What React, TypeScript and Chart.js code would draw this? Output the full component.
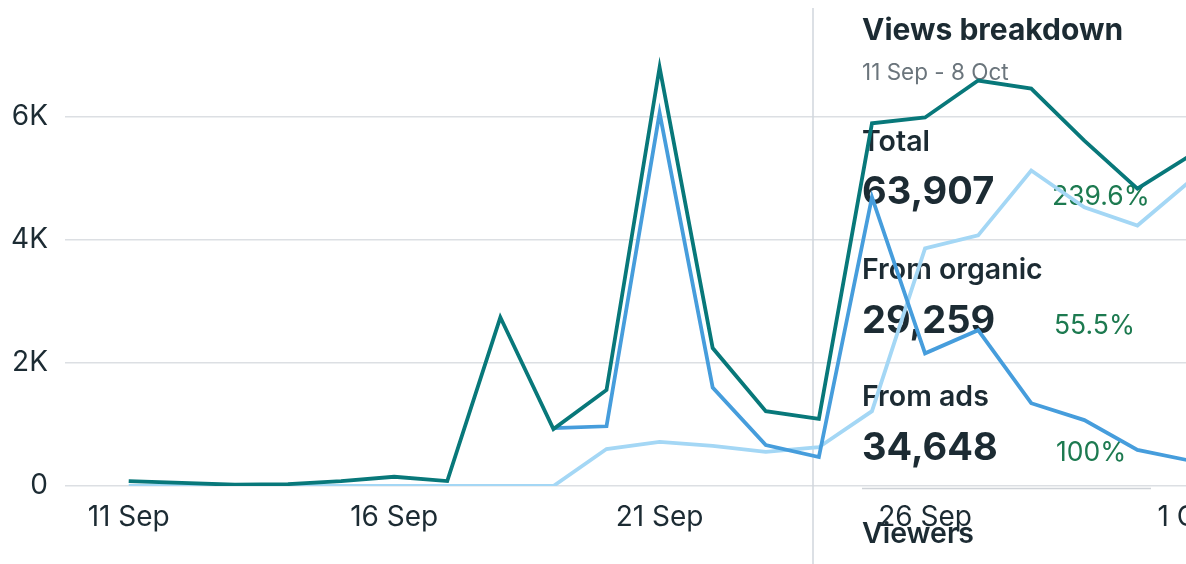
import React, { useEffect, useRef } from "react";
import { Chart, registerables } from "chart.js";

Chart.register(...registerables);

// ---- data ----
const dayLabels = [
  "11 Sep", "12 Sep", "13 Sep", "14 Sep", "15 Sep", "16 Sep", "17 Sep",
  "18 Sep", "19 Sep", "20 Sep", "21 Sep", "22 Sep", "23 Sep", "24 Sep",
  "25 Sep", "26 Sep", "27 Sep", "28 Sep", "29 Sep", "30 Sep", "1 Oct",
];
const totalViews = [
  80, 50, 20, 30, 80, 150, 80, 2740, 925, 1560, 6800, 2240, 1215, 1090,
  5890, 5985, 6585, 6455, 5610, 4830, 5370,
];
const organicViews: (number | null)[] = [
  null, null, null, null, null, null, null, null, 940, 970, 6060, 1600, 665,
  470, 4690, 2155, 2530, 1345, 1070, 585, 410,
];
const adsViews = [
  0, 0, 0, 0, 0, 0, 0, 0, 0, 600, 715, 650, 555, 630, 1215, 3860, 4070,
  5125, 4525, 4230, 4960,
];
const xTickIndices = [0, 5, 10, 15, 20];
const yTickValues = [0, 2000, 4000, 6000];
const yTickLabels = ["0", "2K", "4K", "6K"];

const panelTitle = "Views breakdown";
const panelRange = "11 Sep - 8 Oct";
const rowNames = ["Total", "From organic", "From ads"];
const rowValues = ["63,907", "29,259", "34,648"];
const rowChanges = ["239.6%", "55.5%", "100%"];
const nextSection = "Viewers";

const FONT = "Inter, 'Noto Sans', sans-serif";
const DARK = "#1c2b33";
const GREEN = "#1d7a50";
const GRAY = "#6b757c";

const overlayPlugin = {
  id: "overlay",
  beforeDatasetsDraw(chart: any) {
    const ctx = chart.ctx;
    ctx.save();
    // vertical panel line
    ctx.strokeStyle = "#d0d6dc";
    ctx.lineWidth = 1.5;
    ctx.beginPath();
    ctx.moveTo(813, 8);
    ctx.lineTo(813, 564);
    ctx.stroke();

    ctx.textAlign = "left";
    ctx.textBaseline = "alphabetic";
    const x0 = 862;
    ctx.fillStyle = DARK;
    ctx.font = `bold 30px ${FONT}`;
    ctx.fillText(panelTitle, x0, 40);
    ctx.fillStyle = GRAY;
    ctx.font = `22.5px ${FONT}`;
    ctx.fillText(panelRange, x0, 80);

    const nameBase = [151, 279, 406];
    const valBase = [204, 333, 460];
    const pctX = [1052, 1054, 1056];
    for (let i = 0; i < rowNames.length; i++) {
      ctx.fillStyle = DARK;
      ctx.font = `600 28.5px ${FONT}`;
      ctx.fillText(rowNames[i], x0, nameBase[i]);
      ctx.font = `bold 38px ${FONT}`;
      ctx.fillText(rowValues[i], x0, valBase[i]);
      ctx.fillStyle = GREEN;
      ctx.font = `26.5px ${FONT}`;
      ctx.fillText(rowChanges[i], pctX[i], valBase[i] + 1);
    }
    // separator
    ctx.strokeStyle = "#cfd3d8";
    ctx.lineWidth = 1.5;
    ctx.beginPath();
    ctx.moveTo(862, 488.5);
    ctx.lineTo(1151, 488.5);
    ctx.stroke();

    ctx.fillStyle = DARK;
    ctx.font = `600 28.5px ${FONT}`;
    ctx.fillText(nextSection, x0, 543);
    ctx.restore();
  },
};

export default function App() {
  const ref = useRef<HTMLCanvasElement | null>(null);

  useEffect(() => {
    document.body.style.margin = "0";
    const canvas = ref.current;
    if (!canvas) return;
    const pts = (arr: (number | null)[]) =>
      arr.map((v, i) => ({ x: i, y: v }));
    const chart = new Chart(canvas, {
      type: "line",
      data: {
        datasets: [
          {
            label: "Total",
            data: pts(totalViews),
            borderColor: "#08787a",
            borderWidth: 3.8,
            pointRadius: 0,
            tension: 0,
            spanGaps: false,
          },
          {
            label: "From organic",
            data: pts(organicViews),
            borderColor: "#469ddc",
            borderWidth: 3.8,
            pointRadius: 0,
            tension: 0,
            spanGaps: false,
          },
          {
            label: "From ads",
            data: pts(adsViews),
            borderColor: "#a4d7f5",
            borderWidth: 3.8,
            pointRadius: 0,
            tension: 0,
          },
        ],
      },
      options: {
        responsive: false,
        animation: false,
        devicePixelRatio: 1,
        layout: { padding: { top: 55, right: 1260 - 1190.5, left: 0, bottom: 0 } },
        plugins: {
          legend: { display: false },
          tooltip: { enabled: false },
        },
        scales: {
          x: {
            type: "linear",
            min: -1.2,
            max: 20,
            grid: { display: false, drawTicks: false },
            border: { display: false },
            afterBuildTicks: (scale: any) => {
              scale.ticks = xTickIndices.map((v) => ({ value: v }));
            },
            afterFit: (scale: any) => {
              scale.height = 78;
            },
            ticks: {
              autoSkip: false,
              maxRotation: 0,
              padding: 15,
              color: DARK,
              font: { family: FONT, size: 28 },
              callback: (v: any) => dayLabels[Number(v)] ?? "",
            },
          },
          y: {
            min: 0,
            max: 7000,
            grid: { color: "#dcdfe3", lineWidth: 1.5, drawTicks: false },
            border: { display: false },
            afterBuildTicks: (scale: any) => {
              scale.ticks = yTickValues.map((v) => ({ value: v }));
            },
            afterFit: (scale: any) => {
              scale.width = 65;
            },
            ticks: {
              padding: 17,
              color: DARK,
              font: { family: FONT, size: 28 },
              callback: (v: any) => {
                const i = yTickValues.indexOf(Number(v));
                return i >= 0 ? yTickLabels[i] : "";
              },
            },
          },
        },
      },
      plugins: [overlayPlugin],
    } as any);
    return () => chart.destroy();
  }, []);

  return (
    <div
      style={{
        position: "fixed",
        left: 0,
        top: 0,
        width: 1186,
        height: 564,
        overflow: "hidden",
        background: "#fff",
      }}
    >
      <canvas ref={ref} width={1260} height={564} style={{ display: "block" }} />
    </div>
  );
}
